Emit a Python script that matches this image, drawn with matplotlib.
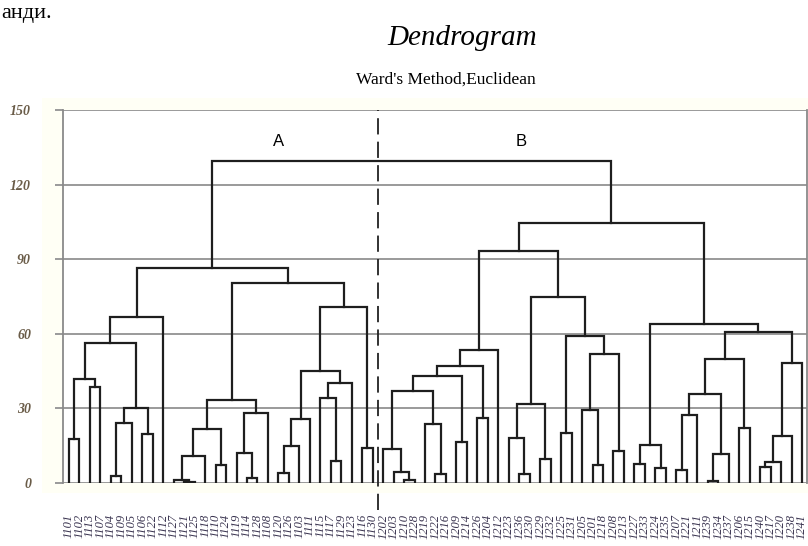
import matplotlib
matplotlib.use("Agg")
import matplotlib.pyplot as plt
from matplotlib.patches import Rectangle

# leaf labels in display order (cluster A, then cluster B)
labels_a = ["1101", "1102", "1113", "1107", "1104", "1109", "1105", "1106", "1122", "1112",
            "1127", "1121", "1125", "1118", "1110", "1124", "1119", "1114", "1128", "1108",
            "1120", "1126", "1103", "1111", "1115", "1117", "1129", "1123", "1116", "1130"]
labels_b = ["1202", "1203", "1210", "1228", "1219", "1222", "1216", "1209", "1214", "1226",
            "1204", "1212", "1223", "1236", "1230", "1229", "1232", "1225", "1231", "1205",
            "1201", "1218", "1208", "1213", "1227", "1233", "1224", "1235", "1207", "1221",
            "1211", "1239", "1234", "1237", "1206", "1215", "1240", "1217", "1220", "1238",
            "1241"]
leaf_labels = labels_a + labels_b

# merges: (left node, right node, distance); leaves are 0..70, new nodes numbered from 71
merges = [
    (0, 1, 17.5), (2, 3, 38.5), (71, 72, 41.8), (4, 5, 2.8), (74, 6, 24.3),
    (7, 8, 19.8), (75, 76, 30.3), (73, 77, 56.2), (78, 9, 66.8), (11, 12, 0.5),
    (10, 80, 1.3), (81, 13, 11.0), (14, 15, 7.2), (82, 83, 21.8), (17, 18, 2.1),
    (16, 85, 12.2), (86, 19, 28.0), (84, 87, 33.2), (20, 21, 4.0), (89, 22, 14.7),
    (90, 23, 25.6), (25, 26, 9.0), (24, 92, 34.3), (93, 27, 40.1), (91, 94, 45.0),
    (28, 29, 14.2), (95, 96, 70.9), (88, 97, 80.3), (79, 98, 86.5),
    (32, 33, 1.1), (31, 100, 4.5), (30, 101, 13.5), (35, 36, 3.5), (34, 103, 23.6),
    (102, 104, 36.9), (37, 38, 16.5), (105, 106, 43.0), (39, 40, 26.3), (107, 108, 46.9),
    (109, 41, 53.5), (43, 44, 3.5), (42, 111, 17.9), (45, 46, 9.7), (112, 113, 31.9),
    (47, 48, 20.3), (50, 51, 7.3), (49, 116, 29.5), (52, 53, 12.7), (117, 118, 51.9),
    (115, 119, 59.1), (114, 120, 74.9), (110, 121, 93.3), (54, 55, 7.7), (56, 57, 6.0),
    (123, 124, 15.4), (58, 59, 5.2), (126, 60, 27.4), (61, 62, 0.7), (128, 63, 11.6),
    (127, 129, 35.6), (64, 65, 22.3), (130, 131, 49.9), (66, 67, 6.4), (133, 68, 8.4),
    (134, 69, 19.1), (135, 70, 48.2), (132, 136, 60.8), (125, 137, 64.0),
    (122, 138, 104.7), (99, 139, 129.6),
]

yticks = [0, 30, 60, 90, 120, 150]

fig = plt.figure(figsize=(8.08, 5.46), dpi=100)
fig.patches.append(Rectangle((42 / 808, 1 - 493 / 546), 1, (493 - 98) / 546,
                             transform=fig.transFigure, facecolor="#fffff5",
                             edgecolor="none", zorder=-1))
ax = fig.add_axes([63 / 808, 1 - 483 / 546, 744 / 808, 373 / 546])

n = len(leaf_labels)
pos = {i: 5 + 10 * i for i in range(n)}
hgt = {i: 0.0 for i in range(n)}
for k, (a, b, d) in enumerate(merges):
    ax.plot([pos[a], pos[a], pos[b], pos[b]], [hgt[a], d, d, hgt[b]],
            color="#1e1e1e", lw=1.6, solid_joinstyle="miter", zorder=3)
    pos[n + k] = (pos[a] + pos[b]) / 2
    hgt[n + k] = d

# separation between the two clusters
ax.plot([300, 300], [-11, 150], color="#222222", lw=1.3, ls=(0, (9, 4)),
        clip_on=False, zorder=4)
ax.text(205, 137.5, "A", fontsize=12, family="Liberation Sans", ha="center", va="center")
ax.text(437, 137.5, "B", fontsize=12, family="Liberation Sans", ha="center", va="center")

ax.set_xlim(-0.7, 709.8)
ax.set_ylim(0, 150)
ax.set_yticks(yticks)
ax.set_yticklabels([str(v) for v in yticks], fontsize=10, family="Liberation Serif",
                   style="italic", weight="bold", color="#6a5c48")
ax.tick_params(axis="y", direction="out", length=6, width=1.4, color="#9a9a9a", pad=17)
ax.grid(axis="y", color="#9a9a9a", lw=1.4, zorder=1)
ax.set_xticks([pos[i] for i in range(n)])
ax.set_xticklabels(leaf_labels, rotation=90, fontsize=9, family="Liberation Serif",
                   style="italic", color="#3a3450")
ax.tick_params(axis="x", length=0, pad=22)
for side in ["left", "right"]:
    ax.spines[side].set_color("#8a8a8a")
    ax.spines[side].set_linewidth(1.3)
for side in ["top", "bottom"]:
    ax.spines[side].set_visible(False)

fig.text(0.572, 1 - 45 / 546, "Dendrogram", fontsize=21, family="Liberation Serif",
         style="italic", ha="center", va="baseline")
fig.text(0.552, 1 - 84 / 546, "Ward's Method,Euclidean", fontsize=12.5,
         family="Liberation Serif", ha="center", va="baseline")
fig.text(0.002, 1 - 18 / 546, "анди.", fontsize=16, family="Liberation Serif",
         ha="left", va="baseline")

fig.savefig("out.png", dpi=100)
